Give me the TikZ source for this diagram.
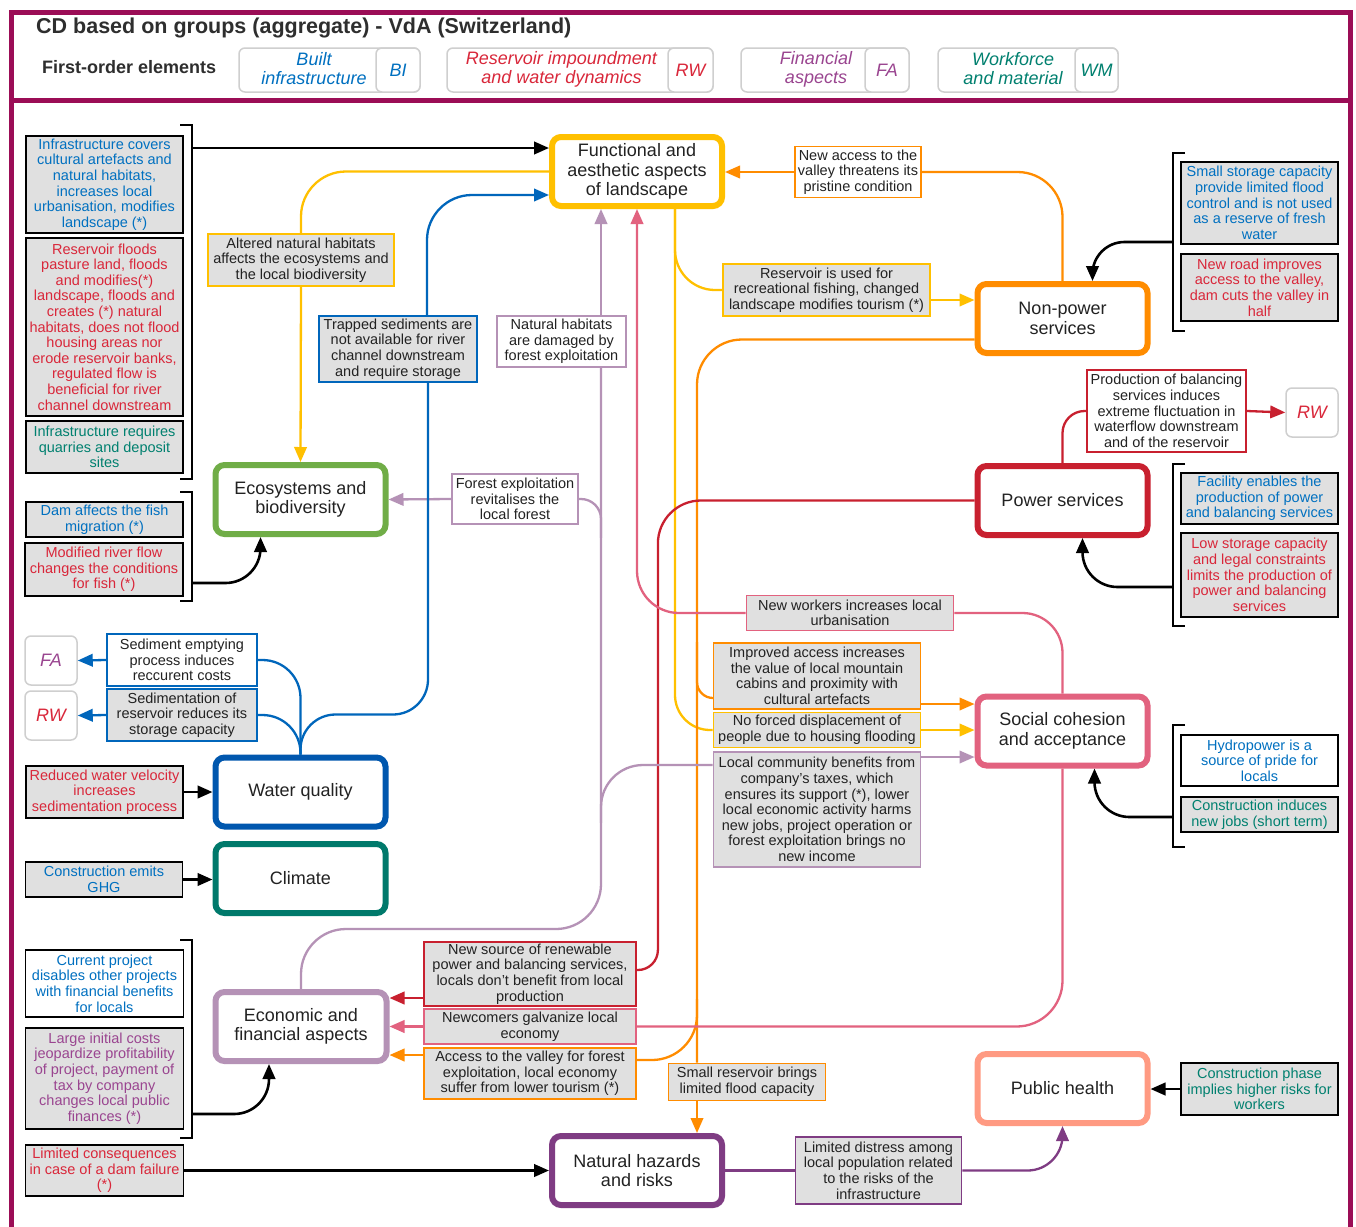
\documentclass[tikz,border=0pt]{standalone}
\usepackage{fontspec}
\setmainfont{Liberation Sans}
\usetikzlibrary{arrows.meta,calc}

\definecolor{frameC}{HTML}{9B0D56}
\definecolor{tBlue}{HTML}{0070C0}
\definecolor{tRed}{HTML}{D9273A}
\definecolor{tPurp}{HTML}{9A4590}
\definecolor{tTeal}{HTML}{00806F}
\definecolor{tDark}{HTML}{222222}
\definecolor{cYel}{HTML}{FFC000}
\definecolor{cOra}{HTML}{FF8C00}
\definecolor{cRed}{HTML}{C8202F}
\definecolor{cPink}{HTML}{E2627F}
\definecolor{cSalm}{HTML}{FF9A82}
\definecolor{cHaz}{HTML}{7F3C83}
\definecolor{cEcon}{HTML}{B592B6}
\definecolor{cGreen}{HTML}{70AD47}
\definecolor{cWQ}{HTML}{0057AE}
\definecolor{cClim}{HTML}{00796B}
\definecolor{cLine}{HTML}{0066BB}
\definecolor{gfill}{HTML}{E0E0E0}
\definecolor{legB}{HTML}{CFCFCF}

\begin{document}
\begin{tikzpicture}[x=1pt,y=-1pt]
\tikzset{
  mainbox/.style={draw, line width=6pt, rounded corners=9pt, fill=white,
    minimum width=170pt, minimum height=69pt, align=center, inner sep=2pt,
    text=tDark, font=\fontsize{18}{19.5}\selectfont},
  tagbox/.style={draw, line width=1.8pt, align=center, inner sep=0pt,
    text=tDark, font=\fontsize{14.5}{15.6}\selectfont},
  gbox/.style={tagbox, fill=gfill},
  wbox/.style={tagbox, fill=white},
  dims/.style 2 args={minimum width=#1pt, minimum height=#2pt},
  conn/.style={line width=2.3pt},
  headed/.style={-{Triangle[length=15pt,width=12.5pt]}},
  blkarr/.style={conn, draw=black, headed, line width=2.6pt},
  legout/.style={draw=legB, line width=1.5pt, rounded corners=6pt, fill=white},
  legtxt/.style={font=\fontsize{18}{19}\selectfont\itshape, align=center, inner sep=0pt},
  abbr/.style={draw=legB, line width=1.5pt, rounded corners=6pt, fill=white,
    font=\fontsize{18}{19}\selectfont\itshape},
  bracket/.style={line width=1.6pt, draw=black},
}
\useasboundingbox (0,0) rectangle (1356,1226);
\fill[white] (0,0) rectangle (1356,1226);

% outer frame and header separator
\draw[frameC, line width=5pt] (11,1240) -- (11,12) -- (1350,12) -- (1350,1240);
\draw[frameC, line width=5pt] (11,100) -- (1350,100);

% header
\node[anchor=west, inner sep=0pt, text=black!82, font=\fontsize{21.5}{24}\selectfont\bfseries] (title) at (36,28) {CD based on groups (aggregate) - VdA (Switzerland)};
\node[anchor=west, inner sep=0pt, text=black!82, font=\fontsize{18}{20}\selectfont\bfseries] (foe) at (42,67) {First-order elements};

\node[legout, minimum width=181pt, minimum height=44pt] (lgBI) at (329.5,70) {};
\node[abbr, minimum width=44pt, minimum height=44pt, text=tBlue] (lgBIab) at (398,70) {BI};
\node[legtxt, text=tBlue] (lgBItx) at (314,69) {Built\\infrastructure};

\node[legout, minimum width=266pt, minimum height=44pt] (lgRW) at (580,70) {};
\node[abbr, minimum width=45pt, minimum height=44pt, text=tRed] (lgRWab) at (690.5,70) {RW};
\node[legtxt, text=tRed] (lgRWtx) at (561.5,69) {Reservoir impoundment\\and water dynamics};

\node[legout, minimum width=168pt, minimum height=44pt] (lgFA) at (825,70) {};
\node[abbr, minimum width=44pt, minimum height=44pt, text=tPurp] (lgFAab) at (887,70) {FA};
\node[legtxt, text=tPurp] (lgFAtx) at (816,69) {Financial\\aspects};

\node[legout, minimum width=180pt, minimum height=44pt] (lgWM) at (1028,70) {};
\node[abbr, minimum width=43pt, minimum height=44pt, text=tTeal] (lgWMab) at (1096.5,70) {WM};
\node[legtxt, text=tTeal] (lgWMtx) at (1013,69) {Workforce\\and material};

% main elements
\node[mainbox, draw=cYel] (func) at (637,171.5) {Functional and\\aesthetic aspects\\of landscape};
\node[mainbox, draw=cOra] (nonp) at (1062.5,318.5) {Non-power\\services};
\node[mainbox, draw=cRed] (power) at (1062.5,500.5) {Power services};
\node[mainbox, draw=cPink] (social) at (1062.5,731) {Social cohesion\\and acceptance};
\node[mainbox, draw=cSalm] (health) at (1062.5,1088.5) {Public health};
\node[mainbox, draw=cHaz] (hazard) at (637,1170.5) {Natural hazards\\and risks};
\node[mainbox, draw=cEcon, minimum width=171pt] (econ) at (301,1026.5) {Economic and\\financial aspects};
\node[mainbox, draw=cGreen] (eco) at (300.5,499.5) {Ecosystems and\\biodiversity};
\node[mainbox, draw=cWQ] (wq) at (300.5,792) {Water quality};
\node[mainbox, draw=cClim] (clim) at (300.5,878.5) {Climate};

% left column of first-order causes
\node[gbox, dims={157}{97}, text=tBlue] (L1) at (104.5,184.5) {Infrastructure covers\\cultural artefacts and\\natural habitats,\\increases local\\urbanisation, modifies\\landscape (*)};
\node[gbox, dims={157}{178}, text=tRed] (L2) at (104.5,327) {Reservoir floods\\pasture land, floods\\and modifies(*)\\landscape, floods and\\creates (*) natural\\habitats, does not flood\\housing areas nor\\erode reservoir banks,\\regulated flow is\\beneficial for river\\channel downstream};
\node[gbox, dims={157}{52}, text=tTeal] (L3) at (104.5,447) {Infrastructure requires\\quarries and deposit\\sites};
\node[gbox, dims={157}{35}, text=tBlue] (L4) at (104.5,519.5) {Dam affects the fish\\migration (*)};
\node[gbox, dims={158}{53}, text=tRed] (L5) at (104,569.5) {Modified river flow\\changes the conditions\\for fish (*)};
\node[gbox, dims={157}{52}, text=tRed] (L6) at (104.5,792) {Reduced water velocity\\increases\\sedimentation process};
\node[gbox, dims={157}{35}, text=tBlue] (L7) at (104,879.5) {Construction emits\\GHG};
\node[wbox, dims={158}{67}, text=tBlue] (L8) at (104.5,983.5) {Current project\\disables other projects\\with financial benefits\\for locals};
\node[gbox, dims={158}{101}, text=tPurp] (L9) at (104.5,1078.5) {Large initial costs\\jeopardize profitability\\of project, payment of\\tax by company\\changes local public\\finances (*)};
\node[gbox, dims={158}{51}, text=tRed] (L10) at (104.5,1170.5) {Limited consequences\\in case of a dam failure\\(*)};

\node[abbr, minimum width=52pt, minimum height=49pt, text=tPurp] (FAl) at (51,660.5) {FA};
\node[abbr, minimum width=52pt, minimum height=49pt, text=tRed] (RWl) at (51,715.5) {RW};

% right column of first-order causes
\node[gbox, dims={157}{82}, text=tBlue] (R1) at (1259.5,203) {Small storage capacity\\provide limited flood\\control and is not used\\as a reserve of fresh\\water};
\node[gbox, dims={157}{67}, text=tRed] (R2) at (1259.5,287.5) {New road improves\\access to the valley,\\dam cuts the valley in\\half};
\node[gbox, dims={157}{51}, text=tBlue] (R3) at (1259.5,498.5) {Facility enables the\\production of power\\and balancing services};
\node[gbox, dims={157}{84}, text=tRed] (R4) at (1259.5,575) {Low storage capacity\\and legal constraints\\limits the production of\\power and balancing\\services};
\node[wbox, dims={157}{51}, text=tBlue] (R5) at (1259.5,760.5) {Hydropower is a\\source of pride for\\locals};
\node[gbox, dims={157}{35}, text=tTeal] (R6) at (1259.5,814.5) {Construction induces\\new jobs (short term)};
\node[gbox, dims={157}{52}, text=tTeal] (R7) at (1259.5,1089) {Construction phase\\implies higher risks for\\workers};
\node[abbr, minimum width=52pt, minimum height=49pt, text=tRed] (RWr) at (1312,412.5) {RW};

% link descriptions
\node[gbox, draw=cYel, dims={186}{52}] (Ealt) at (301,260) {Altered natural habitats\\affects the ecosystems and\\the local biodiversity};
\node[wbox, draw=cOra, dims={126}{51}] (Eaccess) at (858,172) {New access to the\\valley threatens its\\pristine condition};
\node[gbox, draw=cYel, dims={207}{52}] (Efish) at (826.5,290) {Reservoir is used for\\recreational fishing, changed\\landscape modifies tourism (*)};
\node[gbox, draw=cLine, dims={158}{66}] (Etrap) at (398,349) {Trapped sediments are\\not available for river\\channel downstream\\and require storage};
\node[wbox, draw=cEcon, dims={129}{51}] (Enat) at (561.5,341.5) {Natural habitats\\are damaged by\\forest exploitation};
\node[wbox, draw=cEcon, dims={126}{50}] (Eforest) at (515,499) {Forest exploitation\\revitalises the\\local forest};
\node[wbox, draw=cRed, dims={159}{82}] (Eprod) at (1166.5,411) {Production of balancing\\services induces\\extreme fluctuation in\\waterflow downstream\\and of the reservoir};
\node[gbox, draw=cPink, dims={207}{35}] (Ework) at (850,613) {New workers increases local\\urbanisation};
\node[gbox, draw=cOra, dims={207}{66}] (Eimpr) at (817,676) {Improved access increases\\the value of local mountain\\cabins and proximity with\\cultural artefacts};
\node[gbox, draw=cYel, dims={207}{35}] (Edisp) at (817,730) {No forced displacement of\\people due to housing flooding};
\node[gbox, draw=cEcon, dims={207}{115}] (Elocal) at (817,809.5) {Local community benefits from\\company's taxes, which\\ensures its support (*), lower\\local economic activity harms\\new jobs, project operation or\\forest exploitation brings no\\new income};
\node[wbox, draw=cLine, dims={150}{52}] (Esed1) at (182,660) {Sediment emptying\\process induces\\reccurent costs};
\node[gbox, draw=cLine, dims={150}{52}] (Esed2) at (182,715) {Sedimentation of\\reservoir reduces its\\storage capacity};
\node[gbox, draw=cRed, dims={212}{64}] (Esrc) at (530,974) {New source of renewable\\power and balancing services,\\locals don't benefit from local\\production};
\node[gbox, draw=cPink, dims={212}{35}] (Enew) at (530,1026.5) {Newcomers galvanize local\\economy};
\node[gbox, draw=cOra, dims={212}{51}] (Eacc) at (530,1073.5) {Access to the valley for forest\\exploitation, local economy\\suffer from lower tourism (*)};
\node[gbox, draw=cOra, dims={157}{37}] (Esmall) at (747,1082) {Small reservoir brings\\limited flood capacity};
\node[gbox, draw=cHaz, dims={166}{67}] (Edist) at (878.5,1170.5) {Limited distress among\\local population related\\to the risks of the\\infrastructure};

% brackets grouping causes
\draw[bracket] (180,125) -- (192,125) -- (192,479) -- (180,479);
\draw[bracket] (180,492) -- (192,492) -- (192,601) -- (180,601);
\draw[bracket] (180,940) -- (192,940) -- (192,1138) -- (180,1138);
\draw[bracket] (1185,153) -- (1173,153) -- (1173,331) -- (1185,331);
\draw[bracket] (1185,464) -- (1173,464) -- (1173,626) -- (1185,626);
\draw[bracket] (1185,725) -- (1173,725) -- (1173,847) -- (1185,847);

% helper points
\coordinate (b1) at (192,148);
\coordinate (b2) at (192,583);
\coordinate (b3) at (192,1114);
\coordinate (r1) at (1173,242);
\coordinate (r2) at (1173,587);
\coordinate (r3) at (1173,817);
\coordinate (ecoIn) at ($(eco.south)+(-40,0)$);
\coordinate (econIn) at ($(econ.south)+(-32,0)$);
\coordinate (nonpIn) at ($(nonp.north)+(30,0)$);
\coordinate (powerIn) at ($(power.south)+(20,0)$);
\coordinate (socialIn) at ($(social.south)+(32,0)$);
\coordinate (funcOut) at ($(func.south)+(38,0)$);
\coordinate (funcInP) at ($(func.south)+(-36,0)$);
\coordinate (funcInB) at ($(func.west)+(0,23.5)$);
\coordinate (nonpOut) at ($(nonp.west)+(0,21)$);
\coordinate (ov) at ($(hazard.north)+(60,0)$);
\coordinate (ovAcc) at ($(ov)+(0,-134)$);
\coordinate (trapS) at ($(Etrap.south)+(30,0)$);
\coordinate (trapN) at ($(Etrap.north)+(29,0)$);
\coordinate (wqBend) at ($(wq.north)+(0,-40)$);
\coordinate (fishIn) at ($(Efish.east)+(0,10)$);
\coordinate (imprIn) at ($(Eimpr.west)+(0,22)$);
\coordinate (imprOut) at ($(Eimpr.east)+(0,28)$);
\coordinate (localIn) at ($(Elocal.west)+(0,-44.5)$);
\coordinate (localOut) at ($(Elocal.east)+(0,-52.5)$);
\coordinate (srcIn) at ($(Esrc.east)+(0,-4)$);
\coordinate (srcOut) at ($(Esrc.west)+(0,24)$);
\coordinate (redV) at ($(Esrc.east)+(21,-24)$);
\coordinate (accIn) at ($(Eacc.east)+(0,-13.5)$);
\coordinate (accOut) at ($(Eacc.west)+(0,-18.5)$);
\coordinate (econTurn) at ($(econ.north)+(0,-60)$);
\coordinate (natS) at ($(Enat.south)+(39.5,0)$);
\coordinate (natN) at ($(Enat.north)+(39.5,0)$);
\coordinate (pForest) at ($(natS)+(0,170)$);
\coordinate (pLocal) at ($(natS)+(0,455)$);

% black links from grouped causes
\draw[blkarr] (b1) -- (b1 -| func.west);
\draw[blkarr, rounded corners=35pt] (b2) -| (ecoIn);
\draw[blkarr, rounded corners=35pt] (b3) -| (econIn);
\draw[blkarr] (L6.east) -- (wq.west);
\draw[blkarr] (L7.east) -- (L7.east -| clim.west);
\draw[blkarr] (L10.east) -- (hazard.west);
\draw[blkarr, rounded corners=32pt] (r1) -| (nonpIn);
\draw[blkarr, rounded corners=35pt] (r2) -| (powerIn);
\draw[blkarr, rounded corners=35pt] (r3) -| (socialIn);
\draw[blkarr] (R7.west) -- (R7.west -| health.east);

% yellow links (landscape)
\draw[conn, cYel, rounded corners=45pt] (func.west) -| (Ealt.north);
\draw[conn, cYel, headed] (Ealt.south) -- (eco.north);
\draw[conn, cYel, rounded corners=40pt] (funcOut) |- (Efish.west);
\draw[conn, cYel, headed] (fishIn) -- (fishIn -| nonp.west);
\draw[conn, cYel, rounded corners=35pt] (funcOut) |- (Edisp.west);
\draw[conn, cYel, headed] (Edisp.east) -- (Edisp.east -| social.west);

% orange links (non-power services)
\draw[conn, cOra, rounded corners=45pt] (nonp.north) |- (Eaccess.east);
\draw[conn, cOra, headed] (Eaccess.west) -- (Eaccess.west -| func.east);
\draw[conn, cOra, rounded corners=45pt] (nonpOut) -| (ov |- Esmall.north);
\draw[conn, cOra, headed] (ov |- Esmall.south) -- (ov);
\draw[conn, cOra, rounded corners=16pt] (ov |- Eimpr.north) |- (imprIn);
\draw[conn, cOra, headed] (imprOut) -- (imprOut -| social.west);
\draw[conn, cOra, rounded corners=45pt] (ovAcc) |- (accIn);
\draw[conn, cOra, headed] (accOut) -- (accOut -| econ.east);

% red links (power services)
\draw[conn, cRed, rounded corners=43pt] (power.west) -| (redV);
\draw[conn, cRed, rounded corners=20pt] (redV) |- (srcIn);
\draw[conn, cRed, headed] (srcOut) -- (srcOut -| econ.east);
\draw[conn, cRed, rounded corners=22pt] (power.north) |- (Eprod.west);
\draw[conn, cRed, headed] (Eprod.east) -- (RWr.west);

% pink links (social cohesion)
\draw[conn, cPink, rounded corners=40pt] (social.north) |- (Ework.east);
\draw[conn, cPink, headed, rounded corners=42pt] (Ework.west) -| (func.south);
\draw[conn, cPink, rounded corners=46pt] (social.south) |- (Enew.east);
\draw[conn, cPink, headed] (Enew.west) -- (Enew.west -| econ.east);

% light purple links (economic aspects)
\draw[conn, cEcon, rounded corners=45pt] (econ.north) -- (econTurn) -| (natS);
\draw[conn, cEcon, headed] (natN) -- (funcInP);
\draw[conn, cEcon, rounded corners=20pt] (pForest) |- (Eforest.east);
\draw[conn, cEcon, headed] (Eforest.west) -- (eco.east);
\draw[conn, cEcon, rounded corners=42pt] (pLocal) |- (localIn);
\draw[conn, cEcon, headed] (localOut) -- (localOut -| social.west);

% blue links (water quality)
\draw[conn, cLine, rounded corners=38pt] (Esed1.east) -| (wq.north);
\draw[conn, cLine, rounded corners=38pt] (Esed2.east) -| (wq.north);
\draw[conn, cLine, headed] (Esed1.west) -- (FAl.east);
\draw[conn, cLine, headed] (Esed2.west) -- (RWl.east);
\draw[conn, cLine, rounded corners=35pt] (wq.north) -- (wqBend) -| (trapS);
\draw[conn, cLine, headed, rounded corners=45pt] (trapN) |- (funcInB);

% purple links (natural hazards)
\draw[conn, cHaz] (hazard.east) -- (Edist.west);
\draw[conn, cHaz, headed, rounded corners=35pt] (Edist.east) -| (health.south);
\end{tikzpicture}
\end{document}
